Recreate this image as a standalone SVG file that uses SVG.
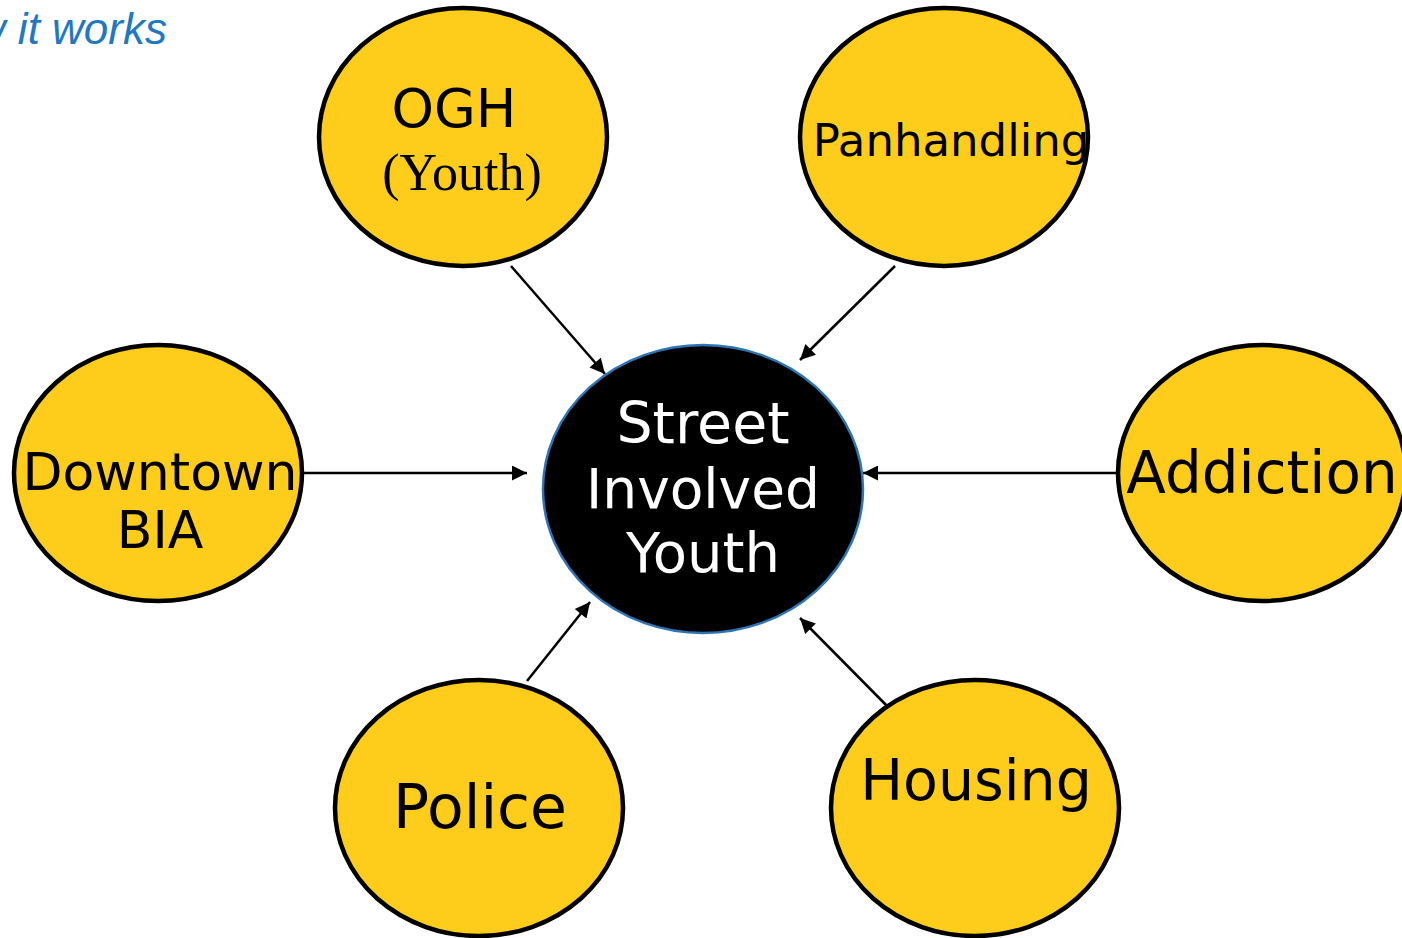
<svg xmlns="http://www.w3.org/2000/svg" width="1402" height="938" viewBox="0 0 1402 938">
<style>
.node{fill:#FECC1B;stroke:#000;stroke-width:4.5}
.lbl{font-family:"DejaVu Sans",sans-serif;fill:#000;text-anchor:middle}
.ser{font-family:"Liberation Serif",serif;fill:#000;text-anchor:middle}
.wl{font-family:"DejaVu Sans",sans-serif;fill:#fff;text-anchor:middle}
.conn line{stroke:#000;stroke-width:2.5;marker-end:url(#ah)}
</style>
<defs>
<marker id="ah" viewBox="0 0 10 10" refX="10" refY="5" markerWidth="7" markerHeight="6" markerUnits="strokeWidth" orient="auto">
<path d="M0,0 L10,5 L0,10 Z" fill="#000"/>
</marker>
</defs>
<rect width="1402" height="938" fill="#fff"/>
<text x="167" y="44" font-family="Liberation Sans,sans-serif" font-style="italic" font-size="44" fill="#1F78C1" text-anchor="end">How it works</text>
<g class="conn">
<line x1="511" y1="266" x2="605" y2="374"/>
<line x1="895" y1="266" x2="800" y2="360"/>
<line x1="303" y1="473" x2="527" y2="473"/>
<line x1="1118" y1="473" x2="863" y2="473"/>
<line x1="527" y1="681" x2="590" y2="602"/>
<line x1="893" y1="712" x2="800" y2="618"/>
</g>
<g id="center">
<ellipse cx="703" cy="489" rx="160" ry="144" fill="#000" stroke="#2E75B6" stroke-width="2.5"/>
<text class="wl" x="703" y="443" font-size="57">Street</text>
<text class="wl" x="703" y="508" font-size="55">Involved</text>
<text class="wl" x="703" y="572" font-size="56">Youth</text>
</g>
<g id="ogh">
<ellipse class="node" cx="463" cy="137" rx="144" ry="129"/>
<text class="lbl" x="454" y="127" font-size="54">OGH</text>
<text class="ser" x="462" y="190" font-size="52">(Youth)</text>
</g>
<g id="panhandling">
<ellipse class="node" cx="944" cy="137" rx="144" ry="129"/>
<text class="lbl" x="951" y="156" font-size="45">Panhandling</text>
</g>
<g id="downtown">
<ellipse class="node" cx="158" cy="473" rx="144" ry="128"/>
<text class="lbl" x="160" y="490" font-size="52">Downtown</text>
<text class="lbl" x="160" y="548" font-size="52">BIA</text>
</g>
<g id="addiction">
<ellipse class="node" cx="1262" cy="473" rx="144" ry="128"/>
<text class="lbl" x="1262" y="493" font-size="58">Addiction</text>
</g>
<g id="police">
<ellipse class="node" cx="479" cy="808" rx="144" ry="128"/>
<text class="lbl" x="480" y="828" font-size="60">Police</text>
</g>
<g id="housing">
<ellipse class="node" cx="975" cy="808" rx="144" ry="128"/>
<text class="lbl" x="976" y="800" font-size="57">Housing</text>
</g>
</svg>
